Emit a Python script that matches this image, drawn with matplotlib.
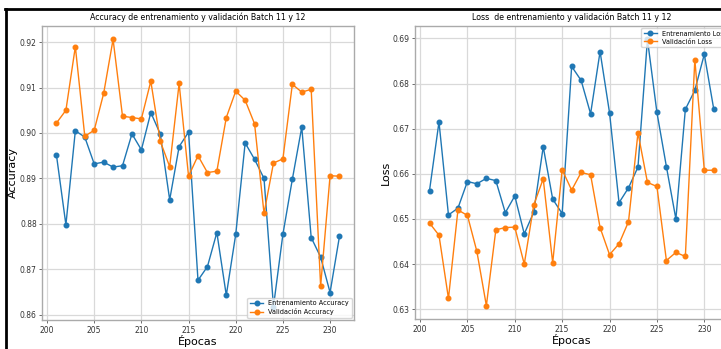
import numpy as np
import matplotlib
matplotlib.use("Agg")
import matplotlib.pyplot as plt
from matplotlib.lines import Line2D

epochs = np.arange(201, 232)

train_acc = [0.8951, 0.8798, 0.9005, 0.8991, 0.8932, 0.8936, 0.8925, 0.8928,
             0.8998, 0.8963, 0.9045, 0.8998, 0.8853, 0.8970, 0.9002, 0.8676,
             0.8706, 0.8781, 0.8643, 0.8777, 0.8978, 0.8942, 0.8900, 0.8618,
             0.8777, 0.8898, 0.9013, 0.8770, 0.8727, 0.8649, 0.8773]
val_acc = [0.9022, 0.9050, 0.9190, 0.8993, 0.9006, 0.9087, 0.9206, 0.9037,
           0.9034, 0.9031, 0.9114, 0.8982, 0.8926, 0.9109, 0.8905, 0.8950,
           0.8913, 0.8916, 0.9034, 0.9092, 0.9072, 0.9020, 0.8823, 0.8934,
           0.8943, 0.9107, 0.9090, 0.9096, 0.8663, 0.8906, 0.8905]

train_loss = [0.6563, 0.6715, 0.6509, 0.6524, 0.6583, 0.6578, 0.6590, 0.6585,
              0.6514, 0.6551, 0.6467, 0.6515, 0.6660, 0.6544, 0.6512, 0.6838,
              0.6807, 0.6733, 0.6871, 0.6735, 0.6536, 0.6569, 0.6615, 0.6898,
              0.6736, 0.6616, 0.6500, 0.6743, 0.6785, 0.6865, 0.6743]
val_loss = [0.6491, 0.6464, 0.6324, 0.6520, 0.6508, 0.6428, 0.6308, 0.6476,
            0.6481, 0.6482, 0.6400, 0.6531, 0.6589, 0.6403, 0.6609, 0.6564,
            0.6603, 0.6598, 0.6481, 0.6421, 0.6445, 0.6494, 0.6691, 0.6581,
            0.6572, 0.6408, 0.6426, 0.6417, 0.6853, 0.6608, 0.6608]

fig = plt.figure(figsize=(7.21, 3.49), dpi=100)
ax1 = fig.add_axes([0.0587, 0.0831, 0.4318, 0.8424])
ax2 = fig.add_axes([0.576, 0.0860, 0.4337, 0.8395])


def style(ax):
    ax.grid(True, color="#d9d9d9", linewidth=0.9)
    ax.set_axisbelow(True)
    for s in ax.spines.values():
        s.set_color("#aaaaaa")
        s.set_linewidth(1.0)
    ax.tick_params(labelsize=5.5, length=2.5, width=0.6, color="#555555",
                   labelcolor="#333333", pad=1.5)


kw = dict(marker="o", markersize=3.3, linewidth=1.0)

ax1.plot(epochs, train_acc, color="tab:blue", label="Entrenamiento Accuracy", **kw)
ax1.plot(epochs, val_acc, color="tab:orange", label="Validación Accuracy", **kw)
ax1.set_title("Accuracy de entrenamiento y validación Batch 11 y 12",
              fontsize=5.7, pad=4)
ax1.set_xlabel("Épocas", fontsize=8, labelpad=0)
ax1.set_ylabel("Accuracy", fontsize=8, labelpad=1)
ax1.set_yticks([0.86, 0.87, 0.88, 0.89, 0.90, 0.91, 0.92])
ax1.set_xticks([200, 205, 210, 215, 220, 225, 230])
style(ax1)
ax1.legend(loc="lower right", fontsize=4.7, borderaxespad=0.3,
           handlelength=2.0, borderpad=0.4, labelspacing=0.3)

ax2.plot(epochs, train_loss, color="tab:blue", label="Entrenamiento Loss", **kw)
ax2.plot(epochs, val_loss, color="tab:orange", label="Validación Loss", **kw)
ax2.set_title("Loss  de entrenamiento y validación Batch 11 y 12",
              fontsize=5.7, pad=4)
ax2.set_xlabel("Épocas", fontsize=8, labelpad=0)
ax2.set_ylabel("Loss", fontsize=8, labelpad=1)
ax2.set_yticks([0.63, 0.64, 0.65, 0.66, 0.67, 0.68, 0.69])
ax2.set_xticks([200, 205, 210, 215, 220, 225, 230])
style(ax2)
ax2.legend(loc="upper right", bbox_to_anchor=(1.012, 1.0), fontsize=4.7,
           borderaxespad=0.3, handlelength=2.0, borderpad=0.4,
           labelspacing=0.3)

# black screenshot frame
fig.add_artist(Line2D([0.007, 1.0], [0.975, 0.975], color="black",
                      linewidth=2.0, transform=fig.transFigure))
fig.add_artist(Line2D([0.008, 0.008], [0.0, 0.975], color="black",
                      linewidth=2.0, transform=fig.transFigure))

fig.savefig("out.png", dpi=100)
